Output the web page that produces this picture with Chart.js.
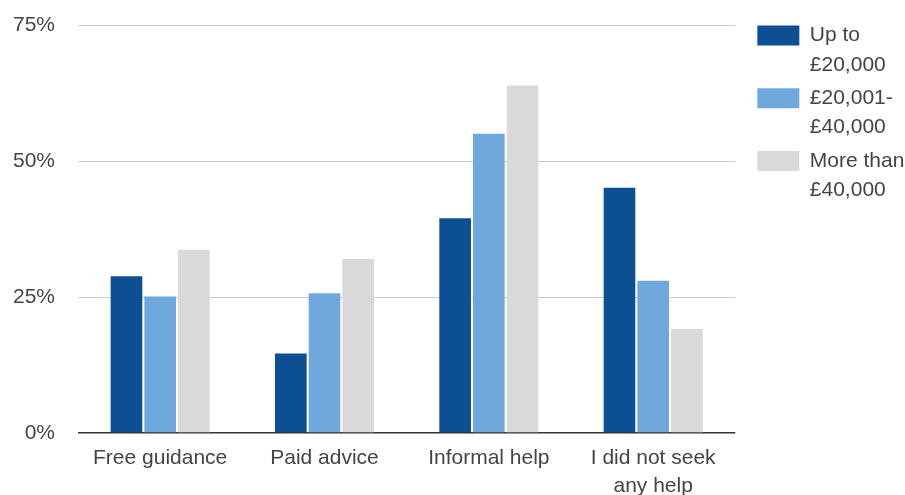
<!DOCTYPE html>
<html>
<head>
<meta charset="utf-8">
<script src="https://cdn.jsdelivr.net/npm/chart.js@4"></script>
<style>
  html, body { margin: 0; padding: 0; background: #fff; }
  #wrap { width: 905px; height: 495px; }
</style>
</head>
<body>
<div id="wrap"><canvas id="helpChart" width="905" height="495"></canvas></div>
<script>
// categories (x axis), multi-line where the original wraps
const categories = ['Free guidance', 'Paid advice', 'Informal help', ['I did not seek', 'any help']];

// income bands, split the same way as the legend
const seriesNames = [['Up to', '£20,000'], ['£20,001-', '£40,000'], ['More than', '£40,000']];

// values in %
const upTo20k = [28.8, 14.6, 39.5, 45.1];
const from20kTo40k = [25.1, 25.7, 55.0, 28.0];
const over40k = [33.7, 32.0, 63.9, 19.1];

const yTicks = [0, 25, 50, 75];

const colours = ['#0d4f93', '#6fa8dc', '#d9d9d9'];
const fontFamily = 'Arial, "Liberation Sans", sans-serif';
const textColour = '#444';

const ctx = document.getElementById('helpChart').getContext('2d');
new Chart(ctx, {
    type: 'bar',
    data: {
        labels: categories,
        datasets: [upTo20k, from20kTo40k, over40k].map((values, i) => ({
            label: seriesNames[i].join(' '),
            data: values,
            backgroundColor: colours[i],
            borderWidth: 0,
            categoryPercentage: 0.615,
            barPercentage: 0.94
        }))
    },
    options: {
        responsive: false,
        animation: false,
        layout: {
            padding: { top: 21, right: 1, bottom: 0, left: 0 }
        },
        plugins: {
            tooltip: { enabled: false },
            legend: {
                position: 'right',
                align: 'start',
                labels: {
                    boxWidth: 42,
                    boxHeight: 20,
                    padding: 4,
                    color: textColour,
                    font: { family: fontFamily, size: 21, lineHeight: 1.4 },
                    generateLabels: function(chart) {
                        const items = Chart.defaults.plugins.legend.labels.generateLabels(chart);
                        items.forEach((item, i) => {
                            item.text = seriesNames[i];
                            item.lineWidth = 0;
                        });
                        return items;
                    }
                }
            }
        },
        scales: {
            x: {
                grid: { display: false, drawTicks: false },
                border: { display: false },
                ticks: {
                    color: textColour,
                    padding: 12,
                    maxRotation: 0,
                    autoSkip: false,
                    font: { family: fontFamily, size: 21, lineHeight: 1.3 }
                },
                afterFit: function(scale) { scale.height = 62; }
            },
            y: {
                min: 0,
                max: 75,
                afterBuildTicks: function(scale) {
                    scale.ticks = yTicks.map(v => ({ value: v }));
                },
                grid: {
                    drawTicks: false,
                    color: c => c.tick && c.tick.value === 0 ? '#333' : '#cccccc',
                    lineWidth: c => c.tick && c.tick.value === 0 ? 1.5 : 1
                },
                border: { display: false },
                ticks: {
                    color: textColour,
                    padding: 23,
                    font: { family: fontFamily, size: 21, lineHeight: 0.2 },
                    callback: v => v + '%'
                },
                afterFit: function(scale) { scale.width = 78; }
            },
            // empty axis only to leave the gap before the legend
            spacer: {
                type: 'linear',
                position: 'right',
                display: true,
                grid: { display: false, drawTicks: false },
                border: { display: false },
                ticks: { display: false },
                afterFit: function(scale) { scale.width = 18; }
            }
        }
    }
});
</script>
</body>
</html>
